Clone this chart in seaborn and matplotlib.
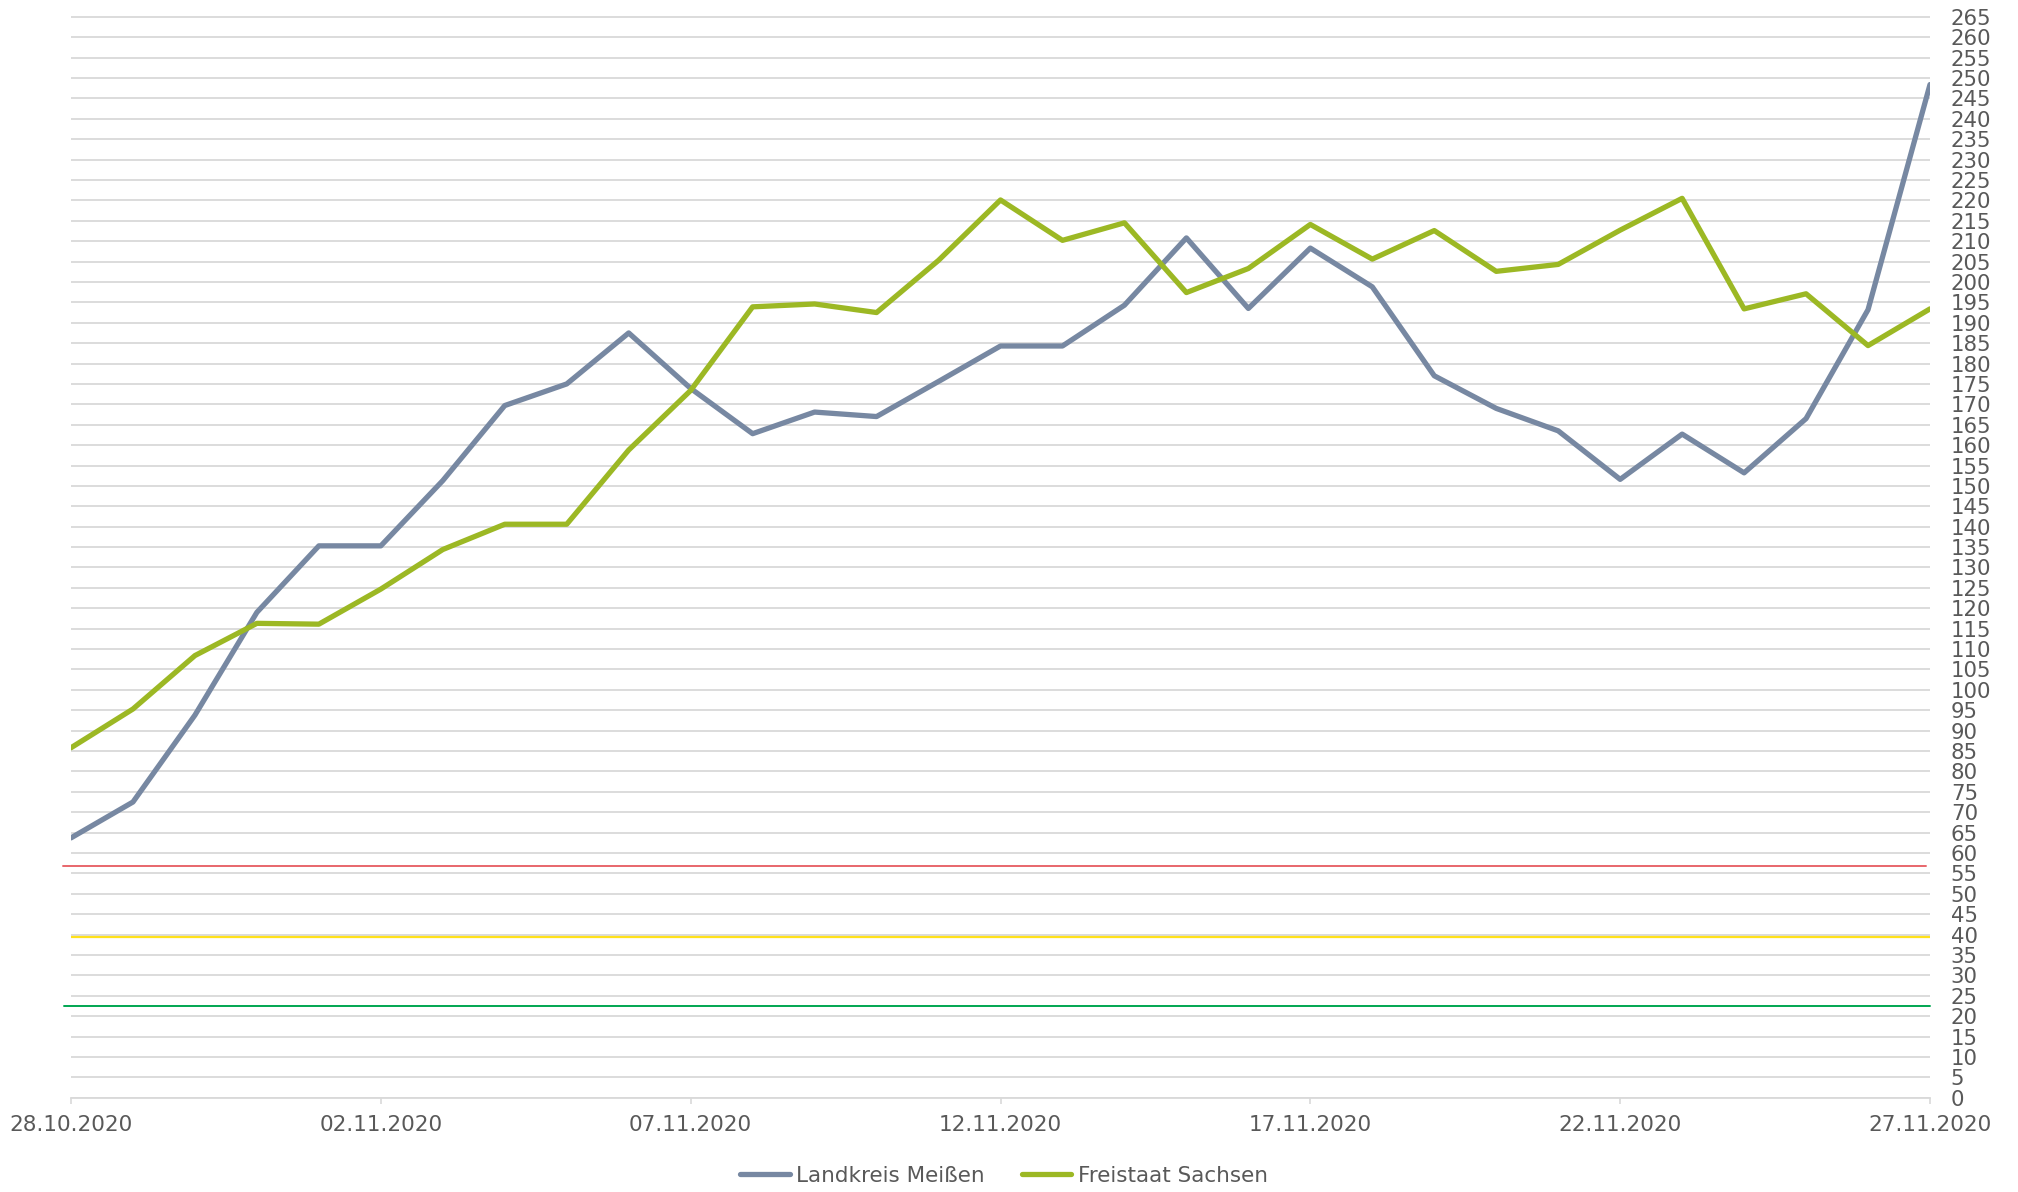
import pandas as pd
import matplotlib
matplotlib.use("Agg")
import matplotlib.pyplot as plt
import matplotlib.dates as mdates
import seaborn as sns

# 7-Tage-Inzidenz, 28.10.2020 - 27.11.2020
dates = pd.date_range("2020-10-28", "2020-11-27", freq="D")
meissen = [63.7, 72.5, 93.8, 119.0, 135.3, 135.3, 151.3, 169.7, 175.0, 187.5,
           173.9, 162.8, 168.1, 167.0, 175.6, 184.3, 184.3, 194.3, 210.8, 193.5,
           208.3, 198.8, 177.0, 169.0, 163.5, 151.6, 162.7, 153.2, 166.5, 193.2,
           248.4]
sachsen = [85.8, 95.3, 108.4, 116.3, 116.1, 124.7, 134.4, 140.6, 140.6, 158.8,
           173.4, 193.9, 194.6, 192.5, 205.3, 220.1, 210.2, 214.5, 197.4, 203.3,
           214.1, 205.6, 212.6, 202.6, 204.3, 212.7, 220.5, 193.4, 197.1, 184.4,
           193.4]
series_names = ["Landkreis Meißen", "Freistaat Sachsen"]
series_colors = ["#7788a2", "#9cb824"]

# Grenzwerte (waagerechte Linien)
threshold_values = [56.9, 39.3, 22.5]
threshold_colors = ["#e8666b", "#ffe11a", "#00a651"]

tick_dates = dates[::5]
y_ticks = list(range(0, 266, 5))

df = pd.concat([
    pd.DataFrame({"Datum": dates, "Wert": meissen, "Gebiet": series_names[0]}),
    pd.DataFrame({"Datum": dates, "Wert": sachsen, "Gebiet": series_names[1]}),
])

sns.set_style("white")
plt.rcParams["font.family"] = ["DejaVu Sans"]
text_color = "#595959"
grid_color = "#d9d9d9"

fig = plt.figure(figsize=(20.18, 11.92), dpi=100)
ax = fig.add_axes([71 / 2018, 0.0791, 1859 / 2018, 0.9102])

# Grenzlinien
ax.axhline(threshold_values[0], xmin=-0.0043, xmax=0.998, color=threshold_colors[0],
           lw=1.4, clip_on=False, zorder=2)
ax.axhline(threshold_values[1], xmin=0, xmax=1, color=threshold_colors[1],
           lw=1.6, zorder=2)
ax.axhline(threshold_values[2], xmin=-0.0038, xmax=1, color=threshold_colors[2],
           lw=1.4, clip_on=False, zorder=2)

sns.lineplot(data=df, x="Datum", y="Wert", hue="Gebiet", palette=series_colors,
             linewidth=3.8, ax=ax, legend=True, zorder=3)
for line in ax.get_lines():
    line.set_solid_joinstyle("round")

ax.set_xlim(dates[0], dates[-1])
ax.set_ylim(0, 266)
ax.yaxis.tick_right()
ax.set_yticks(y_ticks)
ax.set_yticklabels([str(v) for v in y_ticks])
ax.set_xticks(tick_dates)
ax.xaxis.set_major_formatter(mdates.DateFormatter("%d.%m.%Y"))
ax.tick_params(axis="y", length=0, pad=15, labelsize=15.3, labelcolor=text_color)
ax.tick_params(axis="x", length=4.5, width=1.2, color=grid_color, pad=8,
               labelsize=15.5, labelcolor=text_color, bottom=True)
ax.set_xlabel("")
ax.set_ylabel("")
ax.grid(axis="y", color=grid_color, linewidth=1.3, zorder=0)
ax.grid(axis="x", visible=False)
ax.set_axisbelow(True)
for side in ["top", "left", "right"]:
    ax.spines[side].set_visible(False)
ax.spines["bottom"].set_color(grid_color)
ax.spines["bottom"].set_linewidth(1.3)

ax.get_legend().remove()
handles, labels = ax.get_legend_handles_labels()
leg = fig.legend(handles, labels, loc="center", bbox_to_anchor=(1004 / 2018, 1 - 1176 / 1192),
                 ncol=2, frameon=False, fontsize=15.5, handlelength=2.3,
                 handletextpad=0.3, columnspacing=1.7, labelcolor=text_color)
for h in leg.get_lines():
    h.set_linewidth(3.8)
    h.set_solid_capstyle("round")

fig.savefig("out.png", dpi=100)
